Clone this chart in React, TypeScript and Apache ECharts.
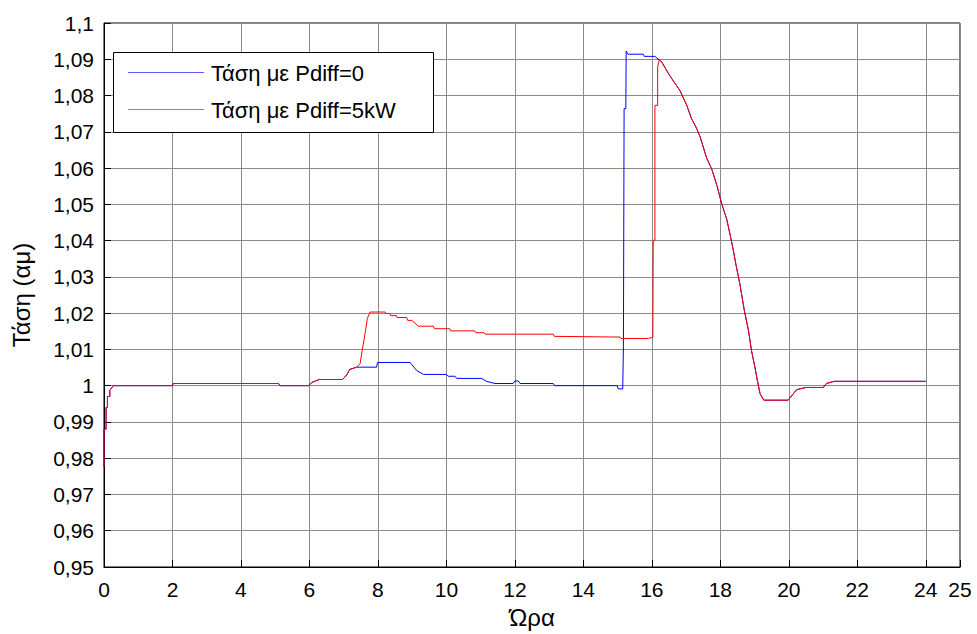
import React, { useEffect, useRef } from "react";
import * as echarts from "echarts";

// Shared start (both cases identical)
const startT = [0, 0, 0.06, 0.06, 0.1, 0.1, 0.17, 0.17, 0.27, 2.0, 2.02, 5.1, 5.14, 5.98, 6.07, 6.29, 6.97, 7.09, 7.18, 7.38];
const startV = [0.9776, 0.988, 0.988, 0.994, 0.994, 0.997, 0.997, 0.9987, 1.0, 1.0, 1.0006, 1.0006, 1.0, 1.0, 1.0009, 1.0017, 1.0017, 1.003, 1.0045, 1.0051];

// Pdiff = 0 (blue) middle part
const blueMidT = [7.96, 7.99, 8.94, 9.13, 9.33, 10.0, 10.05, 10.25, 10.3, 11.03, 11.17, 11.42, 11.95, 12.0, 12.1, 12.15, 13.12, 13.16, 14.99, 15.02, 15.15, 15.17, 15.19, 15.24, 15.25, 15.3, 15.75, 15.78, 16.09, 16.15];
const blueMidV = [1.0051, 1.0064, 1.0064, 1.0042, 1.0031, 1.0031, 1.0026, 1.0026, 1.002, 1.002, 1.0012, 1.0006, 1.0006, 1.0013, 1.0013, 1.0006, 1.0006, 1.0, 1.0, 0.9991, 0.9991, 1.0107, 1.0764, 1.0764, 1.0923, 1.0914, 1.0914, 1.0908, 1.0908, 1.0903];

// Pdiff = 5kW (red) middle part
const redMidT = [7.48, 7.54, 7.64, 7.69, 7.77, 8.21, 8.23, 8.35, 8.37, 8.54, 8.56, 8.84, 8.87, 8.99, 9.18, 9.62, 9.65, 10.1, 10.13, 10.83, 10.86, 11.1, 11.13, 13.12, 13.15, 15.07, 15.1, 15.9, 15.95, 16.03, 16.04, 16.09, 16.09, 16.17, 16.17];
const redMidV = [1.0061, 1.0097, 1.0153, 1.0185, 1.0203, 1.0203, 1.0199, 1.0199, 1.0193, 1.0193, 1.0188, 1.0188, 1.018, 1.018, 1.0164, 1.0164, 1.0157, 1.0157, 1.0151, 1.0151, 1.0146, 1.0146, 1.0142, 1.0142, 1.0136, 1.0134, 1.013, 1.013, 1.0132, 1.0132, 1.0401, 1.0401, 1.0773, 1.0773, 1.0879];

// Shared end (descent and settle)
const endT = [16.22, 16.29, 16.49, 16.58, 16.82, 17.02, 17.16, 17.31, 17.41, 17.6, 17.75, 17.9, 18.04, 18.19, 18.3, 18.38, 18.46, 18.57, 18.7, 18.82, 18.91, 19.01, 19.08, 19.16, 19.27, 19.98, 20.23, 20.5, 21.01, 21.1, 21.33, 24.0];
const endV = [1.0899, 1.0892, 1.086, 1.0847, 1.0814, 1.0773, 1.0736, 1.0709, 1.0686, 1.0628, 1.0597, 1.0552, 1.0502, 1.0458, 1.041, 1.0373, 1.0332, 1.0281, 1.0208, 1.0153, 1.0097, 1.0051, 1.0015, 0.9978, 0.996, 0.996, 0.9989, 0.9995, 0.9995, 1.0006, 1.0012, 1.0012];

const seriesNames = ["Τάση με Pdiff=0", "Τάση με Pdiff=5kW"];
const seriesColors = ["#0000ff", "#ff0000"];
const legendLineColors = ["#5a5aff", "#ff5a5a"];
const xTitle = "Ώρα";
const yTitle = "Τάση (αμ)";

const zip = (ts: number[], vs: number[]) => ts.map((t, i) => [t, vs[i]]);

const FONT = "'Liberation Sans', Arial, Helvetica, sans-serif";
const FS = 21;
const FS_LEGEND = 22;
const FS_BIG = 24;

export default function App() {
  const ref = useRef<HTMLDivElement>(null);
  useEffect(() => {
    if (!ref.current) return;
    const chart = echarts.init(ref.current, undefined, { renderer: "svg" });
    const blue = [...zip(startT, startV), ...zip(blueMidT, blueMidV), ...zip(endT, endV)];
    const red = [...zip(startT, startV), ...zip(redMidT, redMidV), ...zip(endT, endV)];
    const legendRows = [72, 109];
    const legendGraphics: any[] = [
      {
        type: "rect",
        z: 10,
        shape: { x: 113.5, y: 52.5, width: 320, height: 80 },
        style: { fill: "#fff", stroke: "#000", lineWidth: 1 },
      },
    ];
    seriesNames.forEach((name, i) => {
      legendGraphics.push({
        type: "line",
        z: 11,
        shape: { x1: 128, y1: legendRows[i] + 0.5, x2: 204, y2: legendRows[i] + 0.5 },
        style: { stroke: legendLineColors[i], lineWidth: 1 },
      });
      legendGraphics.push({
        type: "text",
        z: 11,
        x: 211,
        y: legendRows[i] + 1,
        style: {
          text: name,
          fontSize: FS_LEGEND,
          fontFamily: FONT,
          fill: "#000",
          verticalAlign: "middle",
          align: "left",
        },
      });
    });
    chart.setOption({
      animation: false,
      backgroundColor: "#ffffff",
      textStyle: { fontFamily: FONT },
      grid: {
        left: 104,
        top: 23,
        width: 856,
        height: 544,
        show: true,
        borderColor: "#000",
        borderWidth: 1,
        backgroundColor: "transparent",
      },
      xAxis: {
        type: "value",
        min: 0,
        max: 25,
        interval: 2,
        name: xTitle,
        nameLocation: "middle",
        nameGap: 38,
        nameTextStyle: { fontSize: FS_BIG, color: "#000", fontFamily: FONT },
        axisLine: { show: true, lineStyle: { color: "#000", width: 1 } },
        axisTick: { show: true, inside: true, length: 7, lineStyle: { color: "#000" } },
        axisLabel: { fontSize: FS, color: "#000", margin: 12, fontFamily: FONT, showMaxLabel: true },
        splitLine: { show: true, lineStyle: { color: "#8a8a8a", width: 1 } },
      },
      yAxis: {
        type: "value",
        min: 0.95,
        max: 1.1,
        interval: 0.01,
        name: yTitle,
        nameLocation: "middle",
        nameGap: 71,
        nameTextStyle: { fontSize: FS_BIG, color: "#000", fontFamily: FONT },
        axisLine: { show: true, lineStyle: { color: "#000", width: 1 } },
        axisTick: { show: true, inside: true, length: 7, lineStyle: { color: "#000" } },
        axisLabel: {
          fontSize: FS,
          color: "#000",
          margin: 10,
          fontFamily: FONT,
          formatter: (v: number) => String(Math.round(v * 100) / 100).replace(".", ","),
        },
        splitLine: { show: true, lineStyle: { color: "#8a8a8a", width: 1 } },
      },
      graphic: legendGraphics,
      series: [
        {
          name: seriesNames[0],
          type: "line",
          data: blue,
          symbol: "none",
          showSymbol: false,
          lineStyle: { color: seriesColors[0], width: 1 },
          itemStyle: { color: seriesColors[0] },
          z: 3,
        },
        {
          name: seriesNames[1],
          type: "line",
          data: red,
          symbol: "none",
          showSymbol: false,
          lineStyle: { color: seriesColors[1], width: 1 },
          itemStyle: { color: seriesColors[1] },
          z: 4,
        },
      ],
    });
    return () => chart.dispose();
  }, []);
  return (
    <div
      ref={ref}
      style={{ position: "fixed", left: 0, top: 0, width: 977, height: 634, background: "#fff" }}
    />
  );
}
